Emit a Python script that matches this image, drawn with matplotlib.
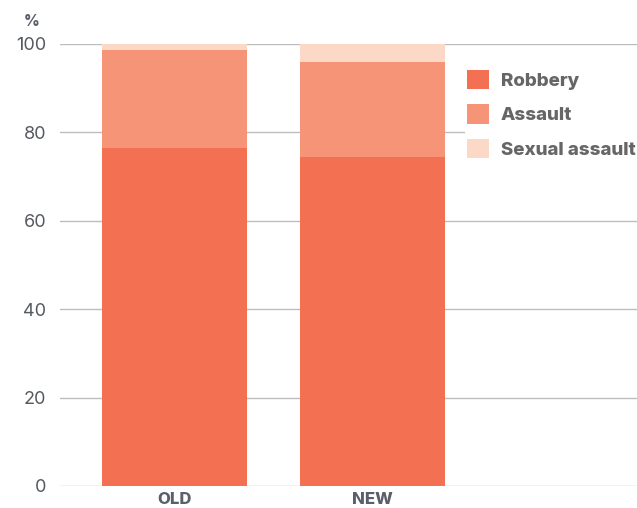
import matplotlib
matplotlib.use("Agg")
import matplotlib.pyplot as plt

categories = ["OLD", "NEW"]
series_names = ["Robbery", "Assault", "Sexual assault"]
robbery = [76.5, 74.5]
assault = [22.1, 21.4]
sexual_assault = [1.4, 4.1]
y_ticks = [0, 20, 40, 60, 80, 100]

colors = ["#F37052", "#F59477", "#FCD8C6"]

plt.rcParams['font.family'] = ['Inter', 'DejaVu Sans']

fig = plt.figure(figsize=(6.37, 5.08), dpi=100)
ax = fig.add_axes([60/637, 22/508, 577/637, 442/508])

x = list(range(len(categories)))
bottom = [0]*len(categories)
handles = []
for vals, name, c in zip([robbery, assault, sexual_assault], series_names, colors):
    b = ax.bar(x, vals, bottom=bottom, width=0.732, color=c, label=name, zorder=3)
    handles.append(b)
    bottom = [bo + v for bo, v in zip(bottom, vals)]

ax.set_ylim(0, 100)
ax.set_xlim(-0.578, 2.336)
ax.set_yticks(y_ticks)
ax.set_yticklabels([str(t) for t in y_ticks], fontsize=13, color="#555a60")
ax.set_xticks(x)
ax.set_xticklabels(categories, fontsize=12, fontweight="heavy", color="#5a5f6b")
ax.tick_params(axis="y", length=0, pad=10)
ax.tick_params(axis="x", length=0, pad=4)
for s in ax.spines.values():
    s.set_visible(False)
ax.grid(axis="y", color="#bdbdbd", linewidth=1, zorder=0)
ax.set_axisbelow(True)

fig.text(32/637, 1 - 22/508, "%", fontsize=11, fontweight="heavy", color="#5a5f6b",
         ha="center", va="center")

leg = ax.legend(handles=handles, labels=series_names, loc="upper left",
                bbox_to_anchor=(405/577, (486-68)/442), frameon=True,
                facecolor="white", edgecolor="none", framealpha=1,
                fontsize=13.5, handlelength=1.2, handleheight=1.2,
                labelspacing=0.78, handletextpad=0.6, borderpad=0.1,
                borderaxespad=0)
for t in leg.get_texts():
    t.set_fontweight("heavy")
    t.set_color("#666666")
leg.set_zorder(5)

fig.savefig("out.png", dpi=100)
